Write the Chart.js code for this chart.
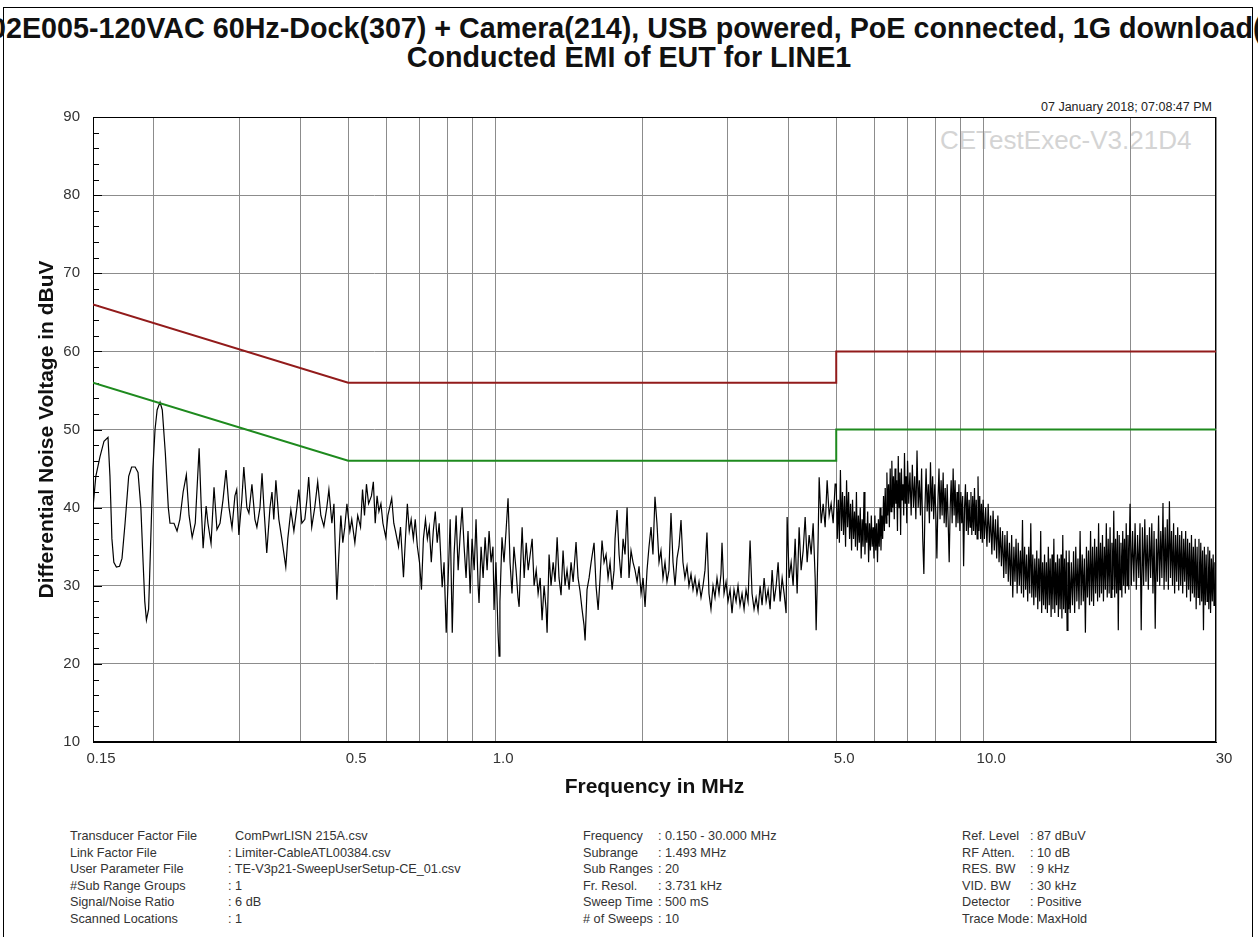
<!DOCTYPE html>
<html>
<head>
<meta charset="utf-8">
<title>Conducted EMI of EUT for LINE1</title>
<script src="https://cdn.jsdelivr.net/npm/chart.js@4.4.1/dist/chart.umd.min.js"></script>
<style>
  html, body { margin: 0; padding: 0; background: #fff; }
  body { width: 1258px; height: 937px; position: relative; overflow: hidden;
         font-family: "Liberation Sans", Arial, sans-serif; color: #222; }
  #frame { position: absolute; left: 3px; top: 7px; width: 1250px; height: 960px;
           border: 1px solid #000; box-sizing: border-box; }
  .title { position: absolute; white-space: nowrap; font-weight: bold; font-size: 28.7px;
           line-height: 32px; color: #111; }
  #title1 { left: -10px; top: 12px; }
  #title2 { left: 0; width: 1258px; text-align: center; top: 41px; }
  #stamp { position: absolute; right: 46px; top: 100px; font-size: 12.5px; line-height: 15px; color: #222; }
  #watermark { position: absolute; left: 940px; top: 125px; font-size: 26px; line-height: 30px; color: #d4d4d4; }
  #chartBox { position: absolute; left: 0; top: 0; width: 1258px; height: 800px; }
  .info { position: absolute; top: 828px; font-size: 12.7px; line-height: 16.5px; color: #333; white-space: nowrap; }
</style>
</head>
<body>
<div id="frame"></div>
<div id="title1" class="title">02E005-120VAC 60Hz-Dock(307) + Camera(214), USB powered, PoE connected, 1G download(</div>
<div id="title2" class="title">Conducted EMI of EUT for LINE1</div>
<div id="stamp">07 January 2018; 07:08:47 PM</div>
<div id="watermark">CETestExec-V3.21D4</div>
<div id="chartBox"><canvas id="emiChart" width="1258" height="800"></canvas></div>

<div class="info" style="left:70px">Transducer Factor File<br>Link Factor File<br>User Parameter File<br>#Sub Range Groups<br>Signal/Noise Ratio<br>Scanned Locations</div>
<div class="info" style="left:228px">&nbsp; ComPwrLISN 215A.csv<br>: Limiter-CableATL00384.csv<br>: TE-V3p21-SweepUserSetup-CE_01.csv<br>: 1<br>: 6 dB<br>: 1</div>
<div class="info" style="left:583px">Frequency<br>Subrange<br>Sub Ranges<br>Fr. Resol.<br>Sweep Time<br># of Sweeps</div>
<div class="info" style="left:658px">: 0.150 - 30.000 MHz<br>: 1.493 MHz<br>: 20<br>: 3.731 kHz<br>: 500 mS<br>: 10</div>
<div class="info" style="left:962px">Ref. Level<br>RF Atten.<br>RES. BW<br>VID. BW<br>Detector<br>Trace Mode</div>
<div class="info" style="left:1030px">: 87 dBuV<br>: 10 dB<br>: 9 kHz<br>: 30 kHz<br>: Positive<br>: MaxHold</div>

<script>
// limit lines [MHz, dBuV]
var qpLimit = [[0.15, 66], [0.5, 56], [5, 56], [5, 60], [30, 60]];
var avLimit = [[0.15, 56], [0.5, 46], [5, 46], [5, 50], [30, 50]];

var traceLow = [
  [0.150,40],[0.152,44],[0.155,46.5],[0.158,48.5],[0.161,49],[0.1625,44],[0.164,36],[0.1655,33],
  [0.1675,32.4],[0.170,32.5],[0.172,33.5],[0.1745,38],[0.1775,44],[0.180,45.2],[0.183,45.2],[0.1855,44.5],
  [0.188,40],[0.190,33],[0.1915,28],[0.193,25.6],[0.195,27],[0.197,36],[0.199,45],[0.201,50],
  [0.203,52.5],[0.2058,53.5],[0.208,52.5],[0.211,47],[0.214,40],[0.2157,38],[0.2198,38],[0.223,37],
  [0.226,38.5],[0.2295,42],[0.233,44.2],[0.236,39],[0.2395,36.2],[0.243,38],[0.2475,47.6],[0.250,40],
  [0.2522,34.8],[0.2558,40.2],[0.258,38],[0.2618,35.4],[0.2655,42.6],[0.2692,37.2],[0.2731,38],[0.277,41],
  [0.281,44.8],[0.285,40],[0.289,37.4],[0.293,41.5],[0.2955,42.3],[0.2985,36.5],[0.3027,41],[0.3056,45.2],
  [0.310,40],[0.313,39.3],[0.3175,43],[0.322,38.5],[0.325,37.5],[0.3298,40],[0.333,44.4],[0.336,40],
  [0.3405,34.2],[0.3457,40],[0.349,42],[0.352,38.5],[0.3555,43.5],[0.3605,38.5],[0.3656,36],[0.3725,32.4],
  [0.376,36],[0.3815,39.7],[0.387,37],[0.3925,40],[0.396,42.3],[0.4018,38],[0.4075,38.5],[0.4115,41],
  [0.415,43.9],[0.421,37.5],[0.427,40],[0.433,43.3],[0.4395,39],[0.4458,37.6],[0.452,40],[0.4565,42.3],
  [0.463,38],[0.4675,40.5],[0.474,28.2],[0.4785,34],[0.483,39],[0.4875,35.5],[0.492,37.5],[0.497,40.5]
];

var traceMid = [
  [0.504,37],[0.5085,38.5],[0.516,35.5],[0.523,39],[0.530,37.5],[0.535,42.3],[0.540,39],[0.545,43],
  [0.5505,40.5],[0.558,41.5],[0.563,43.3],[0.568,38],[0.573,41.5],[0.578,39.5],[0.5835,40.5],[0.589,38],
  [0.597,36.2],[0.603,39],[0.608,40],[0.614,41.2],[0.620,38],[0.625,37],[0.634,35],[0.640,37.5],
  [0.649,31.1],[0.655,36],[0.661,40.5],[0.667,37],[0.673,38.5],[0.680,36],[0.686,38.5],[0.693,35],
  [0.700,33],[0.7065,29.5],[0.713,36],[0.720,38.5],[0.7265,36],[0.733,37.5],[0.740,33],[0.747,37],
  [0.754,39.5],[0.761,35.5],[0.768,38],[0.779,29.8],[0.786,33],[0.794,24],[0.8015,31],[0.809,38.5],
  [0.817,24],[0.824,34],[0.832,39],[0.840,32],[0.848,36.5],[0.856,40],[0.864,35],[0.872,31],
  [0.880,37],[0.889,29],[0.897,36],[0.906,32],[0.914,38.5],[0.923,30],[0.927,27.8],[0.936,35],
  [0.945,31],[0.954,36.2],[0.963,32],[0.972,37],[0.981,33],[0.990,35],[0.995,26.9],[1.004,33],
  [1.014,24],[1.019,21],[1.023,28],[1.033,36.2],[1.043,33],[1.053,37],[1.063,41.2],[1.073,33],
  [1.083,29],[1.093,35],[1.104,32],[1.114,28.5],[1.120,27.3],[1.130,34],[1.136,37.5],[1.147,31],
  [1.158,35.5],[1.169,32],[1.180,34],[1.191,36],[1.202,30],[1.214,32],[1.225,29],[1.237,31],
  [1.248,25.6],[1.260,30],[1.272,27],[1.278,24],[1.290,34],[1.302,30],[1.315,33],[1.327,30.5],
  [1.340,36.2],[1.352,31],[1.365,28.8],[1.378,34.5],[1.391,30],[1.404,32],[1.418,29.5],[1.431,33],
  [1.445,30.5],[1.465,35.6],[1.479,31],[1.493,29.3],[1.507,27],[1.521,25],[1.529,23],[1.543,29.5],
  [1.558,31],[1.573,33],[1.595,35.5],[1.610,30],[1.626,26.9],[1.641,31],[1.656,35.8],[1.672,33],
  [1.688,34],[1.704,31],[1.720,33],[1.737,29.5],[1.753,32],[1.761,36],[1.778,39.7],[1.795,34],
  [1.812,31],[1.829,36],[1.846,34],[1.864,40],[1.881,31],[1.899,34.5],[1.917,33],[1.935,32],
  [1.954,30.5],[1.972,32.5],[1.991,29],[2.010,31],[2.029,27.3],[2.048,32],[2.067,35],[2.087,37.5],
  [2.106,34],[2.126,41.4],[2.146,38],[2.167,33],[2.187,34.5],[2.208,31],[2.229,33],[2.250,30.5],
  [2.271,32],[2.293,39.3],[2.315,33],[2.337,30],[2.359,33.5],[2.381,35],[2.404,38.4],[2.426,33],
  [2.449,31],[2.473,32.5],[2.496,30],[2.520,31.5],[2.544,29.5],[2.568,31],[2.592,29],[2.617,30.5],
  [2.642,28.5],[2.667,30],[2.692,32],[2.717,36.8],[2.743,29],[2.769,27],[2.796,30],[2.822,28.5],
  [2.849,31],[2.876,29],[2.903,31.5],[2.917,35.5],[2.945,29],[2.973,30.5],[3.001,28],[3.030,29.5],
  [3.058,26.5],[3.087,29.5],[3.117,28],[3.146,30],[3.176,27.5],[3.206,29],[3.237,27],[3.267,29.5],
  [3.298,28],[3.330,35.8],[3.361,29],[3.393,27],[3.426,28.5],[3.458,26.8],[3.491,30],[3.524,27.5],
  [3.558,31],[3.592,28],[3.626,29.5],[3.660,27],[3.695,32],[3.730,28],[3.766,30],[3.801,33],
  [3.837,28],[3.874,31],[3.910,29],[3.947,26.5],[3.966,38.8],[4.004,31],[4.042,33],[4.080,30],
  [4.119,36],[4.158,29],[4.197,37.5],[4.237,32],[4.278,34.5],[4.318,38.8],[4.359,33],[4.400,36.5],
  [4.442,34],[4.484,38],[4.527,31],[4.548,24.3],[4.570,30],[4.591,36],[4.613,43.9],[4.657,38],
  [4.701,40.5],[4.745,37.5],[4.790,43.5],[4.836,39],[4.881,40.5],[4.928,38],[4.974,43]
];

// 5 - 30 MHz: dense max-hold band
var traceHigh = [
  [5.000,43],[5.025,36],[5.050,41],[5.075,35.5],[5.100,44.8],[5.125,37],[5.150,42],[5.175,36.5],
  [5.200,41.5],[5.225,35],[5.250,43.5],[5.275,37.5],[5.300,42],[5.325,36],[5.350,40.5],[5.375,34.5],
  [5.400,41],[5.425,36],[5.450,39.5],[5.475,35],[5.500,42],[5.525,34.5],[5.550,39],[5.575,35.5],
  [5.600,40],[5.625,33.5],[5.650,38.5],[5.675,35],[5.700,42],[5.725,34],[5.750,38],[5.775,35.5],
  [5.800,39.5],[5.825,33],[5.850,38],[5.875,34.5],[5.900,39],[5.925,35],[5.950,37.5],[5.975,33.5],
  [6.000,39],[6.025,34.5],[6.050,38],[6.075,33],[6.100,38.5],[6.125,35],[6.150,40],[6.175,34.5],
  [6.200,39],[6.225,36],[6.250,41.5],[6.275,37],[6.300,42.5],[6.325,38],[6.350,44.5],[6.375,39],
  [6.400,43],[6.425,37.5],[6.450,45],[6.475,39.5],[6.500,46],[6.525,40],[6.550,44],[6.575,38.5],
  [6.600,45],[6.625,40.5],[6.650,43.5],[6.675,37],[6.700,46.6],[6.725,40],[6.750,44.5],[6.775,36.5],
  [6.800,45],[6.825,41],[6.850,43],[6.875,39],[6.900,47],[6.925,40.5],[6.950,44],[6.975,38],
  [7.00,46],[7.04,40.5],[7.08,44.5],[7.12,39],[7.16,45.5],[7.20,40],[7.24,44],[7.28,38.5],
  [7.32,47.3],[7.36,40],[7.40,43.5],[7.44,39],[7.48,45],[7.52,36],[7.56,31.5],[7.60,40],
  [7.64,45],[7.68,39.5],[7.72,43],[7.76,38],[7.80,45.8],[7.84,39.5],[7.88,44],[7.92,38.5],
  [7.96,43],[8.00,39],[8.04,33.5],[8.08,41],[8.12,45],[8.16,38.5],[8.20,43.5],[8.24,39],
  [8.28,44.5],[8.32,38],[8.36,42.5],[8.40,37.5],[8.44,43],[8.48,38],[8.52,33],[8.56,40],
  [8.60,43.5],[8.64,38],[8.68,45],[8.72,39],[8.76,43.5],[8.80,37.5],[8.84,42],[8.88,38],
  [8.92,43],[8.96,37],[9.00,42],[9.04,38],[9.08,41.5],[9.12,32.5],[9.16,40],[9.20,43],
  [9.24,37],[9.28,42],[9.32,36.5],[9.36,41],[9.40,37.5],[9.44,42],[9.48,36.5],[9.52,41.5],
  [9.56,37],[9.60,42.5],[9.64,36.5],[9.68,41],[9.72,36],[9.76,44],[9.80,37],[9.84,41.5],
  [9.88,36],[9.92,40.5],[9.96,35.5],
  [10.00,41],[10.06,36],[10.12,40],[10.18,35],[10.24,40.5],[10.30,35.5],[10.36,39],[10.42,34],
  [10.48,39.6],[10.54,34.5],[10.60,38.5],[10.66,33.5],[10.72,39],[10.78,33],[10.84,37.5],[10.90,32.5],
  [10.96,37],[11.02,31],[11.08,36.5],[11.14,31.5],[11.20,37],[11.26,30.5],[11.32,35.5],[11.38,30],
  [11.44,36.5],[11.50,28.5],[11.56,35],[11.62,30.5],[11.68,36],[11.74,29],[11.80,35.5],[11.86,30],
  [11.92,34.5],[11.98,29],[12.04,38.4],[12.10,28.5],[12.16,35],[12.22,29.5],[12.28,34],[12.34,28],
  [12.40,35],[12.46,29],[12.52,38],[12.58,28.5],[12.64,34],[12.70,27.5],[12.76,33.5],[12.82,28.5],
  [12.88,34.5],[12.94,27],[13.00,33.5],[13.06,28],[13.12,37],[13.18,26.5],[13.24,33],[13.30,27.5],
  [13.36,34],[13.42,27],[13.48,33],[13.54,26.5],[13.60,35],[13.66,27.5],[13.72,33.5],[13.78,26],
  [13.84,34],[13.90,27],[13.96,36],[14.02,26.5],[14.08,33],[14.14,27.5],[14.20,34],[14.26,26],
  [14.32,33.5],[14.38,27],[14.44,34],[14.50,25.8],[14.56,36.5],[14.62,27],[14.68,33.5],[14.74,26.5],
  [14.80,34.5],[14.86,24.3],[14.92,33],[14.98,27],
  [15.00,34.5],[15.08,26.5],[15.16,33],[15.24,27.5],[15.32,34.4],[15.40,26.5],[15.48,35],[15.56,28],
  [15.64,33.5],[15.72,27],[15.80,37],[15.88,27.5],[15.96,34],[16.04,28],[16.12,33.5],[16.20,24],
  [16.28,35],[16.36,28.5],[16.44,34.5],[16.52,27.5],[16.60,37],[16.68,28],[16.76,35],[16.84,27.4],
  [16.92,36],[17.00,29],[17.08,35],[17.16,28],[17.24,38],[17.32,28.5],[17.40,35.5],[17.48,29],
  [17.56,36.5],[17.64,28],[17.72,35],[17.80,29.5],[17.88,38],[17.96,28.5],[18.04,36],[18.12,29],
  [18.20,37.5],[18.28,28.5],[18.36,35.5],[18.44,29.5],[18.52,39.6],[18.60,28.5],[18.68,36],[18.76,29],
  [18.84,37],[18.92,24.3],[19.00,36.5],[19.08,29.5],[19.16,35.5],[19.24,28.5],[19.32,37],[19.40,30],
  [19.48,36],[19.56,29],[19.64,38],[19.72,30],[19.80,36.5],[19.88,29.5],[19.96,37.5],
  [20.00,40.5],[20.12,30],[20.24,37],[20.36,30.5],[20.48,38],[20.60,29.5],[20.72,36.5],[20.84,31],
  [20.96,38],[21.08,24.3],[21.20,37.5],[21.32,30],[21.44,38.5],[21.56,30.5],[21.68,36.5],[21.80,29.5],
  [21.92,37.5],[22.04,31],[22.16,38],[22.28,29],[22.40,37],[22.52,24.5],[22.64,36],[22.76,30.5],
  [22.88,39],[23.00,30],[23.12,37],[23.24,31],[23.36,40.6],[23.48,29.5],[23.60,37.5],[23.72,30.5],
  [23.84,38.5],[23.96,29.5],[24.08,40.8],[24.20,31],[24.32,37],[24.44,30],[24.56,38],[24.68,29],
  [24.80,36.5],[24.92,30.5],[25.04,37.5],[25.16,29.4],[25.28,36.5],[25.40,30],[25.52,37],[25.64,29],
  [25.76,36],[25.88,30.5],[26.00,37],[26.12,28.5],[26.24,36],[26.36,29.5],[26.48,35.5],[26.60,28],
  [26.72,36.5],[26.84,29],[26.96,35],[27.08,28.5],[27.20,36],[27.32,27],[27.44,35],[27.56,28.5],
  [27.68,36],[27.80,27.5],[27.92,35.5],[28.04,28],[28.16,34.5],[28.28,24.3],[28.40,35],[28.52,27.5],
  [28.64,34],[28.76,28],[28.88,35],[29.00,27],[29.12,34.5],[29.24,26.5],[29.36,33.5],[29.48,28],
  [29.60,34],[29.72,27.5],[29.84,33],[29.96,28],[30.00,31]
];

// axis ticks
var yMin = 10, yMax = 90;
var xGridValues = [0.15, 0.2, 0.3, 0.4, 0.5, 0.6, 0.7, 0.8, 0.9, 1, 2, 3, 4, 5, 6, 7, 8, 9, 10, 20, 30];
var xTickValues = [0.15, 0.5, 1, 5, 10, 30];
var xTickText = ['0.15', '0.5', '1.0', '5.0', '10.0', '30'];

function toXY(pairs) {
  return pairs.map(function (p) { return { x: p[0], y: p[1] }; });
}

var labelFont = { family: '"Liberation Sans", Arial, sans-serif', size: 15 };
var axisTitleFont = { family: '"Liberation Sans", Arial, sans-serif', size: 21, weight: 'bold' };

// plot frame plus the short 2 dB ticks inside the left edge
var frameTicks = {
  id: 'frameTicks',
  beforeDatasetsDraw: function (chart) {
    var ctx = chart.ctx, a = chart.chartArea, y = chart.scales.y;
    ctx.save();
    ctx.strokeStyle = '#000';
    ctx.lineWidth = 1;
    for (var v = yMin + 2; v < yMax; v += 2) {
      var py = Math.round(y.getPixelForValue(v)) + 0.5;
      var len = (v % 10 === 0) ? 9 : 6;
      ctx.beginPath();
      ctx.moveTo(a.left, py);
      ctx.lineTo(a.left + len, py);
      ctx.stroke();
    }
    ctx.strokeRect(Math.round(a.left) + 0.5, Math.round(a.top) + 0.5,
      Math.round(a.right - a.left) - 1, Math.round(a.bottom - a.top) - 1);
    ctx.restore();
  }
};

var emiChart = new Chart(document.getElementById('emiChart'), {
  type: 'line',
  data: {
    datasets: [
      { label: 'QP limit', data: toXY(qpLimit), borderColor: '#921b1b', borderWidth: 2, order: 0 },
      { label: 'AV limit', data: toXY(avLimit), borderColor: '#1e8a1e', borderWidth: 2, order: 1 },
      { label: 'LINE1', data: toXY(traceLow.concat(traceMid, traceHigh)), borderColor: '#000', borderWidth: 1.2, order: 2 }
    ]
  },
  options: {
    responsive: false,
    animation: false,
    devicePixelRatio: 1,
    layout: { padding: { left: 0, top: 117, right: 42, bottom: 0 } },
    elements: { point: { radius: 0 }, line: { tension: 0 } },
    plugins: { legend: { display: false }, tooltip: { enabled: false }, title: { display: false } },
    scales: {
      x: {
        type: 'logarithmic',
        min: 0.15,
        max: 30,
        afterBuildTicks: function (scale) {
          scale.ticks = xGridValues.map(function (v) { return { value: v }; });
        },
        afterFit: function (scale) { scale.height = 58; },
        grid: { color: '#8c8c8c', lineWidth: 1, drawTicks: false },
        border: { color: '#000' },
        ticks: {
          autoSkip: false, maxRotation: 0, padding: 8, labelOffset: 8,
          color: '#333', font: labelFont,
          callback: function (value) {
            var i = xTickValues.indexOf(value);
            return i >= 0 ? xTickText[i] : '';
          }
        },
        title: { display: true, text: 'Frequency in MHz', color: '#111', font: axisTitleFont, padding: { top: 7, bottom: 0 } }
      },
      y: {
        min: yMin,
        max: yMax,
        afterFit: function (scale) { scale.width = 93; },
        grid: { color: '#8c8c8c', lineWidth: 1, drawTicks: false },
        border: { color: '#000' },
        ticks: { stepSize: 10, padding: 13, color: '#333', font: labelFont },
        title: { display: true, text: 'Differential Noise Voltage in dBuV', color: '#111', font: axisTitleFont, padding: { top: 35, bottom: 0 } }
      }
    }
  },
  plugins: [frameTicks]
});
</script>
</body>
</html>
